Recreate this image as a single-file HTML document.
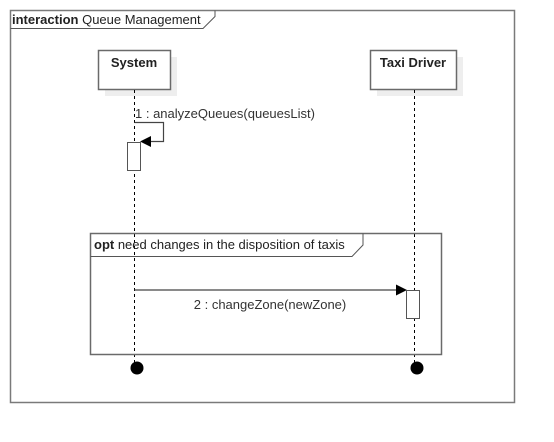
<!DOCTYPE html>
<html><head><meta charset="utf-8"><style>
html,body{margin:0;padding:0;background:#fff;}
svg{display:block;font-family:"Liberation Sans",Arial,sans-serif;}
</style></head><body>
<svg width="554" height="442" viewBox="0 0 554 442" xmlns="http://www.w3.org/2000/svg">
<rect x="0" y="0" width="554" height="442" fill="#fff"/>
<rect x="10.5" y="10.5" width="504" height="392" fill="none" stroke="#7a7a7a" stroke-width="1.5"/>
<path d="M10.5 28.5 H203 L215 16.5 V10.5" fill="none" stroke="#555" stroke-width="1"/>
<text x="12" y="24" font-size="13" fill="#222"><tspan font-weight="bold">interaction</tspan> Queue Management</text>
<rect x="105" y="57" width="72" height="39" fill="#eeeeee"/>
<rect x="98.5" y="50.5" width="72" height="39" fill="#fff" stroke="#6a6a6a" stroke-width="1.5"/>
<text x="134" y="67" font-size="13" font-weight="bold" text-anchor="middle" fill="#222">System</text>
<rect x="377" y="57" width="86" height="39" fill="#eeeeee"/>
<rect x="370.5" y="50.5" width="86" height="39" fill="#fff" stroke="#6a6a6a" stroke-width="1.5"/>
<text x="413" y="67" font-size="13" font-weight="bold" text-anchor="middle" fill="#222">Taxi Driver</text>
<line x1="134.5" y1="90" x2="134.5" y2="368" stroke="#000" stroke-width="1" stroke-dasharray="3,3"/>
<line x1="414.5" y1="90" x2="414.5" y2="368" stroke="#000" stroke-width="1" stroke-dasharray="3,3"/>
<text x="135" y="118" font-size="13" fill="#333">1 : analyzeQueues(queuesList)</text>
<path d="M134.5 122.5 H163.5 V141.5 H150" fill="none" stroke="#444" stroke-width="1.2"/>
<polygon points="140,141.5 151,136 151,147" fill="#000"/>
<rect x="127.5" y="142.5" width="13" height="28" fill="#fff" stroke="#555" stroke-width="1"/>
<rect x="90.5" y="233.5" width="351" height="121" fill="none" stroke="#6a6a6a" stroke-width="1.5"/>
<path d="M90.5 256.5 H352 L363 245 V233.5" fill="none" stroke="#555" stroke-width="1"/>
<text x="94" y="249" font-size="13" fill="#222"><tspan font-weight="bold">opt</tspan> need changes in the disposition of taxis</text>
<line x1="134.5" y1="290" x2="397" y2="290" stroke="#444" stroke-width="1.2"/>
<polygon points="407,290 396,284.5 396,295.5" fill="#000"/>
<rect x="406.5" y="290.5" width="13" height="28" fill="#fff" stroke="#555" stroke-width="1"/>
<text x="270" y="309" font-size="13" text-anchor="middle" fill="#333">2 : changeZone(newZone)</text>
<circle cx="137" cy="368" r="6.5" fill="#000"/>
<circle cx="417" cy="368" r="6.5" fill="#000"/>
</svg>
</body></html>
